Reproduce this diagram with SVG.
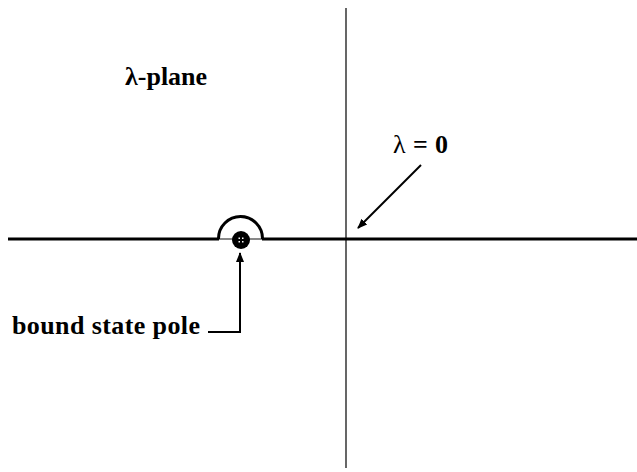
<svg xmlns="http://www.w3.org/2000/svg" width="637" height="472" viewBox="0 0 637 472">
<style>
.t{font-family:"Liberation Serif","Times New Roman",serif;font-weight:bold;font-size:26px;fill:#000}
.ax{stroke:#000;fill:none}
.ar{stroke:#000;stroke-width:2;fill:none}
</style>
<defs>
<marker id="ah" viewBox="0 0 10 10" refX="9" refY="5" markerWidth="10" markerHeight="10" markerUnits="userSpaceOnUse" orient="auto">
<path d="M0,1 L10,5 L0,9 Z" fill="#000"/>
</marker>
</defs>
<rect width="637" height="472" fill="#fff"/>
<g id="axes">
<line class="ax" x1="346" y1="8" x2="346" y2="468" stroke-width="1.2"/>
<line class="ax" x1="8" y1="239" x2="219" y2="239" stroke-width="3"/>
<line class="ax" x1="262" y1="239" x2="637" y2="239" stroke-width="3"/>
<line x1="219" y1="239" x2="262" y2="239" stroke="#888" stroke-width="2"/>
</g>
<g id="contour">
<path class="ax" d="M218.5,239 L218.5,238.5 A22,22 0 0 1 262.5,238.5 L262.5,239" stroke-width="3"/>
</g>
<g id="pole">
<circle cx="241" cy="240" r="9" fill="#000"/>
<g fill="#fff"><rect x="238.5" y="237.5" width="1.5" height="1.5"/><rect x="242" y="237.5" width="1.5" height="1.5"/><rect x="238.5" y="241" width="1.5" height="1.5"/><rect x="242" y="241" width="1.5" height="1.5"/></g>
</g>
<g id="labels">
<text class="t" x="125" y="85">λ-plane</text>
<text class="t" x="393" y="153" textLength="55"><tspan font-weight="normal">λ</tspan> = 0</text>
<text class="t" x="12" y="334" textLength="188">bound state pole</text>
</g>
<g id="connectors">
<line class="ar" x1="421" y1="165" x2="358" y2="228" marker-end="url(#ah)"/>
<path class="ar" d="M208,332 L240,332 L240,253" marker-end="url(#ah)"/>
</g>
</svg>
